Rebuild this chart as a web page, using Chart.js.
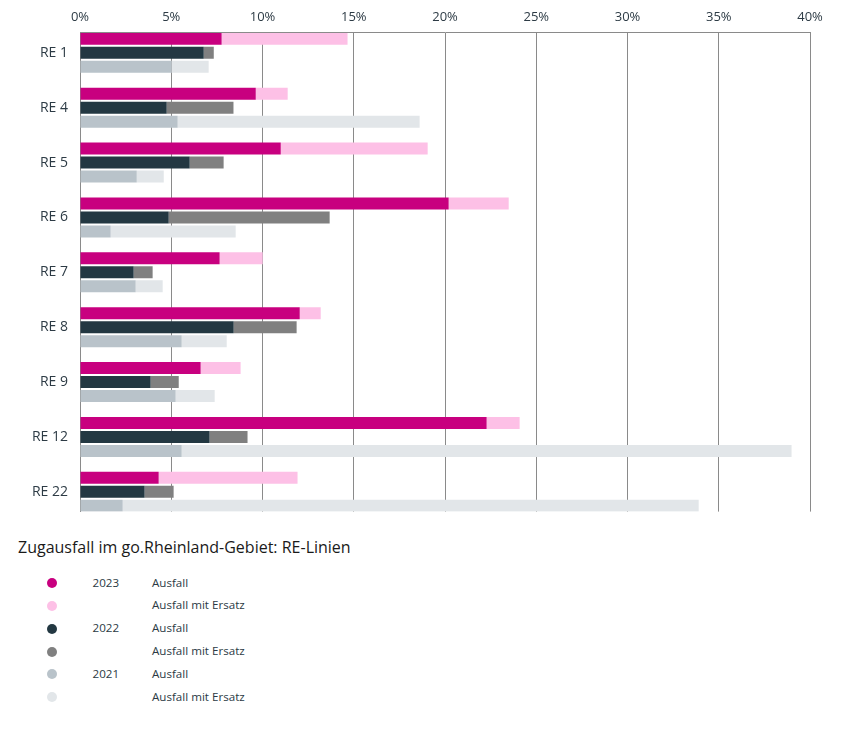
<!DOCTYPE html>
<html lang="de">
<head>
<meta charset="utf-8">
<script src="https://cdn.jsdelivr.net/npm/chart.js@4.4.1/dist/chart.umd.min.js"></script>
<style>
  html, body { margin: 0; padding: 0; background: #ffffff; }
  body { width: 853px; height: 731px; position: relative; overflow: hidden; font-family: "Open Sans", "Noto Sans", sans-serif; }
  #wrap { position: absolute; left: 0; top: 0; width: 853px; height: 532px; }
  #title { position: absolute; left: 18px; top: 536px; font-size: 16px; line-height: 22px; color: #1a1a1a; white-space: nowrap; }
  #legend { position: absolute; left: 0; top: 571.5px; }
  .row { position: relative; height: 22.9px; width: 400px; font-size: 11.6px; color: #2b3a44; }
  .dot { position: absolute; left: 47px; top: 6.4px; width: 10px; height: 10px; border-radius: 50%; }
  .yr { position: absolute; left: 92.5px; top: 3px; line-height: 16px; }
  .lb { position: absolute; left: 152px; top: 3px; line-height: 16px; }
</style>
</head>
<body>
<div id="wrap"><canvas id="c"></canvas></div>
<div id="title"></div>
<div id="legend"></div>
<script>
// ---- data ----
const categories = ['RE 1', 'RE 4', 'RE 5', 'RE 6', 'RE 7', 'RE 8', 'RE 9', 'RE 12', 'RE 22'];
const ausfall2023 = [7.76, 9.63, 11.0, 20.2, 7.65, 12.04, 6.61, 22.28, 4.31];
const ersatz2023  = [6.9, 1.75, 8.05, 3.29, 2.36, 1.15, 2.19, 1.81, 7.61];
const ausfall2022 = [6.78, 4.75, 6.01, 4.86, 2.94, 8.42, 3.87, 7.1, 3.54];
const ersatz2022  = [0.55, 3.66, 1.86, 8.82, 1.04, 3.45, 1.54, 2.08, 1.59];
const ausfall2021 = [5.02, 5.35, 3.11, 1.68, 3.05, 5.57, 5.24, 5.57, 2.34];
const ersatz2021  = [2.03, 13.26, 1.48, 6.85, 1.48, 2.47, 2.14, 33.42, 31.56];
const xTickValues = [0, 5, 10, 15, 20, 25, 30, 35, 40];
const years = ['2023', '2022', '2021'];
const seriesNames = ['Ausfall', 'Ausfall mit Ersatz'];
const chartTitle = 'Zugausfall im go.Rheinland-Gebiet: RE-Linien';

// ---- styles ----
const colors = {
  '2023': ['#C8007F', '#FDC0E6'],
  '2022': ['#233842', '#808080'],
  '2021': ['#B9C3CA', '#E2E6E9']
};
const seriesByYear = {
  '2023': [ausfall2023, ersatz2023],
  '2022': [ausfall2022, ersatz2022],
  '2021': [ausfall2021, ersatz2021]
};

const datasets = [];
years.forEach(y => {
  seriesByYear[y].forEach((vals, k) => {
    datasets.push({
      label: y + ' ' + seriesNames[k],
      stack: 's' + y,
      data: vals.map((v, i) => ({ x: v, y: i })),
      backgroundColor: colors[y][k],
      borderWidth: 0,
      categoryPercentage: 42 / 54.94,
      barPercentage: 12 / 14
    });
  });
});

const gridColor = '#8a8a8a';
const textColor = '#2d3b45';
const fontFamily = '"Open Sans", "Noto Sans", sans-serif';

new Chart(document.getElementById('c'), {
  type: 'bar',
  data: { datasets },
  options: {
    indexAxis: 'y',
    responsive: true,
    maintainAspectRatio: false,
    animation: false,
    layout: { padding: { left: 0, right: 43, top: 0, bottom: 8 } },
    plugins: { legend: { display: false }, tooltip: { enabled: false } },
    scales: {
      x: {
        type: 'linear',
        position: 'top',
        stacked: true,
        min: 0, max: 40,
        afterBuildTicks: s => { s.ticks = xTickValues.map(v => ({ value: v })); },
        afterFit: s => { s.height = 32; },
        grid: { color: gridColor, lineWidth: 1, drawTicks: false },
        border: { display: true, color: gridColor, width: 1 },
        ticks: {
          padding: 7,
          color: textColor,
          font: { family: fontFamily, size: 13 },
          callback: v => v + '%'
        }
      },
      y: {
        type: 'linear',
        reverse: true,
        offset: false,
        min: -0.38, max: 8.36,
        afterBuildTicks: s => { s.ticks = categories.map((c, i) => ({ value: i })); },
        afterFit: s => { s.width = 80; },
        grid: { display: false, offset: false, drawTicks: false },
        border: { display: true, color: gridColor, width: 1 },
        ticks: {
          padding: 12,
          color: textColor,
          font: { family: fontFamily, size: 14 },
          callback: v => categories[v]
        }
      }
    }
  }
});

// ---- title & legend (HTML text) ----
document.getElementById('title').textContent = chartTitle;
const legend = document.getElementById('legend');
years.forEach(y => {
  seriesNames.forEach((n, k) => {
    const row = document.createElement('div');
    row.className = 'row';
    const dot = document.createElement('span');
    dot.className = 'dot';
    dot.style.background = colors[y][k];
    row.appendChild(dot);
    if (k === 0) {
      const yr = document.createElement('span');
      yr.className = 'yr';
      yr.textContent = y;
      row.appendChild(yr);
    }
    const lb = document.createElement('span');
    lb.className = 'lb';
    lb.textContent = n;
    row.appendChild(lb);
    legend.appendChild(row);
  });
});
</script>
</body>
</html>
